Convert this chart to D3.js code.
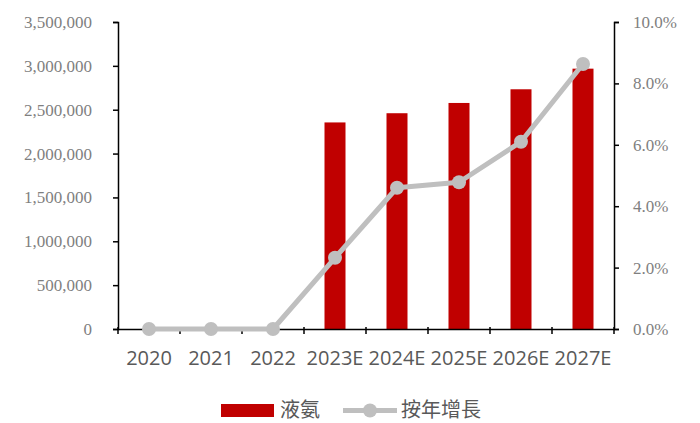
<!DOCTYPE html>
<html><head><meta charset="utf-8">
<script src="https://cdn.jsdelivr.net/npm/d3@7"></script>
<style>body{margin:0;background:#fff}svg{display:block}</style>
</head><body>
<svg id="c" width="700" height="423"></svg>
<script>
const categories = ["2020","2021","2022","2023E","2024E","2025E","2026E","2027E"];
const volume = [0,0,0,2355000,2460000,2577000,2733000,2968000];
const growth = [0,0,0,0.0232,0.0460,0.0478,0.0610,0.0863];
const leftTicks = [0,500000,1000000,1500000,2000000,2500000,3000000,3500000];
const rightTicks = [0,0.02,0.04,0.06,0.08,0.10];
const seriesNames = ["液氨","按年增長"];

const svg = d3.select("#c");
const L = 118, R = 614, T = 22, B = 329;
const x = d3.scaleBand().domain(categories).range([L,R]).paddingInner(0.66).paddingOuter(0.33);
const xc = d3.scaleBand().domain(categories).range([L,R]);
const yL = d3.scaleLinear().domain([0,3500000]).range([B,T]);
const yR = d3.scaleLinear().domain([0,0.10]).range([B,T]);
const serif = "'Liberation Serif', serif";
const sans = "'Open Sans', sans-serif";

// bars
svg.append("g").selectAll("rect").data(volume).join("rect")
  .attr("x",(d,i)=>xc(categories[i]) + xc.bandwidth()/2 - 10.5)
  .attr("width",21)
  .attr("y",d=>yL(d)).attr("height",d=>B-yL(d))
  .attr("fill","#C00000");

// left axis
const gl = svg.append("g").attr("transform",`translate(${L},0)`)
  .call(d3.axisLeft(yL).tickValues(leftTicks).tickSize(5).tickPadding(21).tickFormat(d3.format(",")));
gl.selectAll("text").attr("font-family",serif).attr("font-size",17).attr("fill","#7f7f7f");
gl.select(".domain").attr("stroke","#000").attr("stroke-width",1.5);
gl.selectAll(".tick line").attr("stroke","#000").attr("stroke-width",1.5);

// right axis
const gr = svg.append("g").attr("transform",`translate(${R},0)`)
  .call(d3.axisRight(yR).tickValues(rightTicks).tickSize(5).tickPadding(14).tickFormat(d3.format(".1%")));
gr.selectAll("text").attr("font-family",serif).attr("font-size",17).attr("fill","#7f7f7f");
gr.select(".domain").attr("stroke","#000").attr("stroke-width",1.5);
gr.selectAll(".tick line").attr("stroke","#000").attr("stroke-width",1.5);

// x axis
const gx = svg.append("g").attr("transform",`translate(0,${B})`)
  .call(d3.axisBottom(xc).tickSize(0).tickPadding(22).tickSizeOuter(0));
gx.select(".domain").attr("stroke","#000").attr("stroke-width",1.5);
gx.selectAll("text").attr("font-family",sans).attr("font-size",20).attr("fill","#595959");
svg.append("g").selectAll("line").data(d3.range(categories.length+1)).join("line")
  .attr("x1",i=>L+i*xc.step()).attr("x2",i=>L+i*xc.step())
  .attr("y1",B-2).attr("y2",B+5).attr("stroke","#000").attr("stroke-width",1.5);

// line
const line = d3.line().x((d,i)=>xc(categories[i])+xc.bandwidth()/2).y(d=>yR(d));
svg.append("path").datum(growth).attr("d",line)
  .attr("fill","none").attr("stroke","#BFBFBF").attr("stroke-width",5).attr("stroke-linejoin","round");
svg.append("g").selectAll("circle").data(growth).join("circle")
  .attr("cx",(d,i)=>xc(categories[i])+xc.bandwidth()/2).attr("cy",d=>yR(d))
  .attr("r",7).attr("fill","#BFBFBF");

// legend
const lg = svg.append("g");
lg.append("rect").attr("x",221).attr("y",404).attr("width",53).attr("height",13).attr("fill","#C00000");
lg.append("text").attr("x",280).attr("y",417).text(seriesNames[0])
  .attr("font-family","'Noto Sans CJK TC', sans-serif").attr("font-size",20).attr("fill","#595959");
lg.append("line").attr("x1",343).attr("x2",397).attr("y1",410.5).attr("y2",410.5)
  .attr("stroke","#BFBFBF").attr("stroke-width",5);
lg.append("circle").attr("cx",370).attr("cy",410.5).attr("r",7).attr("fill","#BFBFBF");
lg.append("text").attr("x",401).attr("y",417).text(seriesNames[1])
  .attr("font-family","'Noto Sans CJK TC', sans-serif").attr("font-size",20).attr("fill","#595959");
</script>
</body></html>
